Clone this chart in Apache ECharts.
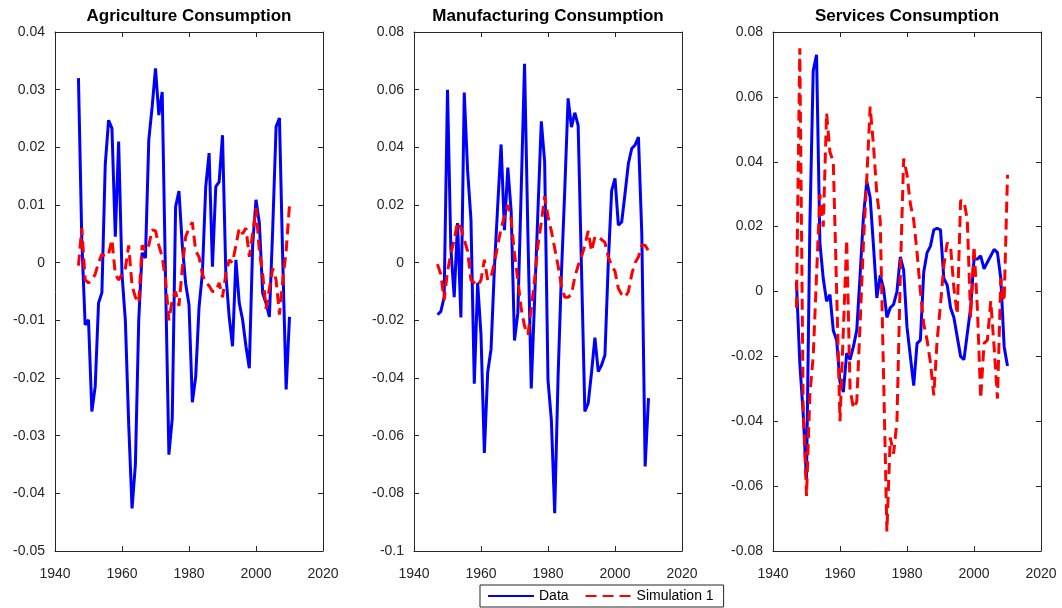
<!DOCTYPE html>
<html><head><meta charset="utf-8">
<script src="https://cdn.jsdelivr.net/npm/echarts@6/dist/echarts.min.js"></script>
<style>html,body{margin:0;padding:0;background:#fff}#c{width:1062px;height:608px}</style>
</head><body><div id="c"></div><script>
const years = [1947,1948,1949,1950,1951,1952,1953,1954,1955,1956,
 1957,1958,1959,1960,1961,1962,1963,1964,1965,1966,
 1967,1968,1969,1970,1971,1972,1973,1974,1975,1976,
 1977,1978,1979,1980,1981,1982,1983,1984,1985,1986,
 1987,1988,1989,1990,1991,1992,1993,1994,1995,1996,
 1997,1998,1999,2000,2001,2002,2003,2004,2005,2006,
 2007,2008,2009,2010];

const agriData = [0.032,0.004,-0.0108,-0.0099,-0.0258,-0.0215,-0.0070,-0.0052,0.017,0.0247,
 0.0233,0.0045,0.021,-0.002,-0.010,-0.028,-0.0426,-0.035,-0.0099,0.0017,
 0.0008,0.0213,0.027,0.0337,0.0256,0.0296,-0.003,-0.0333,-0.027,0.0097,
 0.0124,0.003,-0.0036,-0.0073,-0.0242,-0.0198,-0.0077,-0.0018,0.0132,0.019,
 -0.0007,0.0132,0.014,0.0221,-0.002,-0.0094,-0.0145,0.0005,-0.007,-0.0099,
 -0.0145,-0.0183,0.003,0.0109,0.0069,-0.0053,-0.0070,-0.0094,0.006,0.0236,
 0.0251,0.000,-0.022,-0.0094];
const agriSim = [-0.0005,0.006,-0.003,-0.0035,-0.003,-0.002,0.000,0.0015,0.001,0.0015,
 0.004,-0.002,-0.003,-0.002,-0.001,0.003,-0.004,-0.006,-0.007,0.003,
 0.002,0.003,0.0057,0.0055,0.003,0.001,-0.003,-0.010,-0.0065,-0.005,
 -0.0075,-0.001,0.0045,0.006,0.007,0.002,0.001,-0.002,-0.0035,-0.004,
 -0.005,-0.005,-0.0035,-0.006,-0.002,0.0005,0.000,0.003,0.006,0.005,
 0.006,0.001,0.005,0.0095,0.002,-0.002,-0.008,-0.0045,-0.001,-0.003,
 -0.009,-0.003,0.002,0.010];

const manuData = [-0.018,-0.017,-0.012,0.060,0.005,-0.012,0.0137,-0.019,0.059,0.032,
 0.015,-0.042,-0.007,-0.025,-0.066,-0.038,-0.030,-0.002,0.020,0.041,
 0.0113,0.033,0.018,-0.027,-0.0175,0.025,0.069,0.010,-0.0436,-0.013,
 0.018,0.049,0.035,-0.0407,-0.0545,-0.0869,-0.040,-0.004,0.025,0.057,
 0.047,0.052,0.0476,-0.002,-0.0516,-0.0487,-0.038,-0.026,-0.0378,-0.0355,
 -0.032,0.000,0.025,0.0292,0.013,0.0141,0.024,0.0344,0.0396,0.0408,
 0.0436,0.010,-0.0707,-0.047];
const manuSim = [-0.0005,-0.004,-0.013,-0.003,0.003,0.008,0.014,0.012,0.008,0.004,
 -0.006,-0.007,-0.008,-0.006,0.001,-0.006,-0.005,0.000,0.006,0.012,
 0.016,0.020,0.015,0.003,-0.006,-0.016,-0.022,-0.025,-0.016,-0.006,
 0.006,0.014,0.023,0.016,0.011,0.005,-0.001,-0.008,-0.012,-0.012,
 -0.011,-0.005,-0.001,0.002,0.006,0.011,0.004,0.009,0.009,0.008,
 0.007,0.002,-0.001,-0.003,-0.009,-0.011,-0.012,-0.010,-0.004,0.000,
 0.002,0.006,0.006,0.004];

const servData = [0.003,-0.022,-0.0375,-0.058,0.020,0.068,0.073,0.015,0.004,-0.003,
 -0.001,-0.012,-0.015,-0.028,-0.031,-0.019,-0.021,-0.017,-0.012,0.005,
 0.023,0.034,0.029,0.014,-0.002,0.005,0.001,-0.008,-0.005,-0.004,
 0.000,0.0107,0.0066,-0.011,-0.020,-0.029,-0.016,-0.015,0.006,0.012,
 0.014,0.019,0.0195,0.019,0.004,0.002,-0.005,-0.008,-0.014,-0.020,
 -0.021,-0.013,-0.005,0.010,0.010,0.011,0.007,0.009,0.011,0.013,
 0.012,0.004,-0.017,-0.023];
const servSim = [-0.005,0.075,-0.035,-0.063,-0.032,-0.020,0.005,0.030,0.020,0.055,
 0.043,0.040,0.000,-0.040,-0.012,0.016,-0.030,-0.036,-0.034,-0.010,
 0.015,0.035,0.057,0.045,0.030,0.022,-0.026,-0.074,-0.045,-0.050,
 -0.040,0.005,0.041,0.036,0.027,0.022,0.012,0.000,-0.010,-0.015,
 -0.022,-0.032,-0.015,-0.004,0.008,0.015,0.014,0.001,-0.007,0.028,
 0.028,0.022,-0.008,0.014,-0.005,-0.033,-0.016,-0.015,-0.003,-0.017,
 -0.033,0.004,-0.003,0.036];

const titles = ['Agriculture Consumption','Manufacturing Consumption','Services Consumption'];
const seriesNames = ['Data','Simulation 1'];
const xTicks = {min:1940, max:2020, interval:20};
const yRanges = [
  {min:-0.05, max:0.04, interval:0.01},
  {min:-0.1, max:0.08, interval:0.02},
  {min:-0.08, max:0.08, interval:0.02}
];
const panelData = [[agriData, agriSim],[manuData, manuSim],[servData, servSim]];

const FONT = '"Liberation Sans", Arial, Helvetica, sans-serif';
const AX = '#262626';
const gridLefts = [55, 414, 773];
const GW = 268, GT = 32, GH = 519;

const grids = [], xAxes = [], yAxes = [], series = [], titleOpts = [];
const pair = (ys) => years.map((y, k) => [y, ys[k]]);
for (let i = 0; i < 3; i++) {
  grids.push({left: gridLefts[i], top: GT, width: GW, height: GH, containLabel: false});
  const tick = {show: true, inside: true, length: 5, lineStyle: {color: AX, width: 1}};
  const line = {show: true, onZero: false, lineStyle: {color: AX, width: 1}};
  xAxes.push({type: 'value', gridIndex: i, position: 'bottom', min: xTicks.min, max: xTicks.max, interval: xTicks.interval,
    axisLine: line, axisTick: tick, splitLine: {show: false},
    axisLabel: {color: AX, fontSize: 14, fontFamily: FONT, margin: 16, formatter: v => String(v)}});
  xAxes.push({type: 'value', gridIndex: i, position: 'top', min: xTicks.min, max: xTicks.max, interval: xTicks.interval,
    axisLine: line, axisTick: tick, splitLine: {show: false}, axisLabel: {show: false}});
  const r = yRanges[i];
  yAxes.push({type: 'value', gridIndex: i, position: 'left', min: r.min, max: r.max, interval: r.interval,
    axisLine: line, axisTick: tick, splitLine: {show: false},
    axisLabel: {color: AX, fontSize: 14, fontFamily: FONT, margin: 10}});
  yAxes.push({type: 'value', gridIndex: i, position: 'right', min: r.min, max: r.max, interval: r.interval,
    axisLine: line, axisTick: tick, splitLine: {show: false}, axisLabel: {show: false}});
  series.push({name: seriesNames[0], type: 'line', xAxisIndex: 2*i, yAxisIndex: 2*i, data: pair(panelData[i][0]),
    symbol: 'none', lineStyle: {color: '#0000ff', width: 3}, itemStyle: {color: '#0000ff'}, z: 2});
  series.push({name: seriesNames[1], type: 'line', xAxisIndex: 2*i, yAxisIndex: 2*i, data: pair(panelData[i][1]),
    symbol: 'none', lineStyle: {color: '#ff0000', width: 3, type: [11, 6]}, itemStyle: {color: '#ff0000'}, z: 3});
  titleOpts.push({text: titles[i], left: gridLefts[i] + GW/2, top: 8, padding: 0, textAlign: 'center',
    textStyle: {fontFamily: FONT, fontSize: 17, fontWeight: 'bold', color: '#000'}});
}

const chart = echarts.init(document.getElementById('c'), null, {renderer: 'canvas'});
chart.setOption({
  animation: false,
  backgroundColor: '#fff',
  title: titleOpts,
  grid: grids,
  xAxis: xAxes,
  yAxis: yAxes,
  legend: {data: seriesNames, left: 480, top: 585, padding: [4, 10, 4, 7], itemWidth: 46, itemHeight: 14, itemGap: 16,
    itemStyle: {opacity: 0},
    borderColor: AX, borderWidth: 1, backgroundColor: '#fff',
    textStyle: {fontFamily: FONT, fontSize: 14, color: '#000'}},
  series: series
});
</script></body></html>
